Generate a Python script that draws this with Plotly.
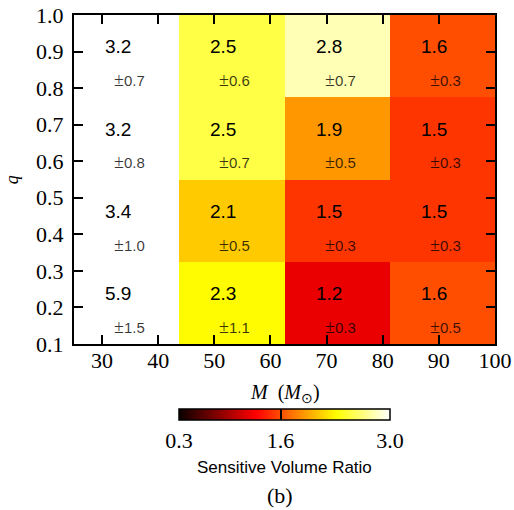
import plotly.graph_objects as go

# Grid: total mass bins (x) and mass-ratio bins (y)
mass_edges = [25, 43.75, 62.5, 81.25, 100]
q_edges = [0.1, 0.325, 0.55, 0.775, 1.0]

# Sensitive volume ratio per bin, rows from low q to high q
ratio = [
    [5.9, 2.3, 1.2, 1.6],
    [3.4, 2.1, 1.5, 1.5],
    [3.2, 2.5, 1.9, 1.5],
    [3.2, 2.5, 2.8, 1.6],
]
ratio_err = [
    [1.5, 1.1, 0.3, 0.5],
    [1.0, 0.5, 0.3, 0.3],
    [0.8, 0.7, 0.5, 0.3],
    [0.7, 0.6, 0.7, 0.3],
]

x_ticks = [30, 40, 50, 60, 70, 80, 90, 100]
y_ticks = [0.1, 0.2, 0.3, 0.4, 0.5, 0.6, 0.7, 0.8, 0.9, 1.0]
cbar_ticks = [0.3, 1.6, 3.0]

SERIF = "Liberation Serif"
SANS = "Liberation Sans"

# matplotlib "hot" colormap
hot = [
    [0.0, "rgb(10,0,0)"],
    [0.365079, "rgb(255,0,0)"],
    [0.746032, "rgb(255,255,0)"],
    [1.0, "rgb(255,255,255)"],
]

fig = go.Figure()
fig.add_trace(go.Heatmap(
    x=mass_edges, y=q_edges, z=ratio,
    zmin=0.3, zmax=3.0, colorscale=hot,
    hoverinfo="skip",
    colorbar=dict(
        orientation="h",
        x=0.5, xanchor="center", xref="paper",
        y=-0.1976, yanchor="top", yref="paper",
        len=211, lenmode="pixels",
        thickness=11, thicknessmode="pixels",
        xpad=0, ypad=0,
        outlinewidth=1.5, outlinecolor="black",
        ticks="inside", ticklen=11, tickwidth=1.5, tickcolor="black",
        tickvals=cbar_ticks, ticktext=[f"{v:.1f}" for v in cbar_ticks],
        tickfont=dict(family=SERIF, size=22, color="black"),
    ),
))

annotations = []
for i in range(len(q_edges) - 1):
    top = q_edges[i + 1]
    for j in range(len(mass_edges) - 1):
        left = mass_edges[j]
        annotations.append(dict(
            x=left + 5.2, y=top - 0.087, xref="x", yref="y",
            xanchor="left", yanchor="middle", showarrow=False,
            text=f"{ratio[i][j]:.1f}",
            font=dict(family=SANS, size=19, color="black"),
        ))
        annotations.append(dict(
            x=left + 6.8, y=top - 0.178, xref="x", yref="y",
            xanchor="left", yanchor="middle", showarrow=False,
            text=(f"<span style='font-family:{SERIF};font-size:18px'>±</span>"
                  f"{ratio_err[i][j]:.1f}"),
            font=dict(family=SANS, size=15, color="rgba(0,0,0,0.78)"),
        ))

# Axis titles and caption
annotations += [
    dict(x=0.5, y=-0.149, xref="paper", yref="paper", showarrow=False,
         xanchor="center", yanchor="middle",
         text="<i>M</i>  (<i>M</i><sub>⊙</sub>)",
         font=dict(family=SERIF, size=20, color="black")),
    dict(x=-0.148, y=0.5, xref="paper", yref="paper", showarrow=False,
         xanchor="center", yanchor="middle", textangle=-90,
         text="<i>q</i>",
         font=dict(family=SERIF, size=18, color="black")),
    dict(x=0.5, y=-0.374, xref="paper", yref="paper", showarrow=False,
         xanchor="center", yanchor="middle",
         text="Sensitive Volume Ratio",
         font=dict(family=SANS, size=17, color="black")),
    dict(x=0.5, y=-0.459, xref="paper", yref="paper", showarrow=False,
         xanchor="center", yanchor="middle", xshift=-5,
         text="(b)",
         font=dict(family=SERIF, size=22, color="black")),
]

axis_common = dict(
    showline=True, linecolor="black", linewidth=2, mirror="ticks",
    ticks="inside", ticklen=9, tickwidth=1.5, tickcolor="black",
    showgrid=False, zeroline=False,
    tickfont=dict(family=SERIF, size=22, color="black"),
)

fig.update_layout(
    width=514, height=510,
    margin=dict(l=74, r=19, t=15, b=166, autoexpand=False),
    paper_bgcolor="white", plot_bgcolor="white",
    xaxis=dict(range=[25, 100], tickvals=x_ticks, ticklabelstandoff=-4,
               **axis_common),
    yaxis=dict(range=[0.1, 1.0], tickvals=y_ticks, tickformat=".1f",
               ticklabelstandoff=4, **axis_common),
    annotations=annotations,
    showlegend=False,
)

fig.write_html("out.html")
